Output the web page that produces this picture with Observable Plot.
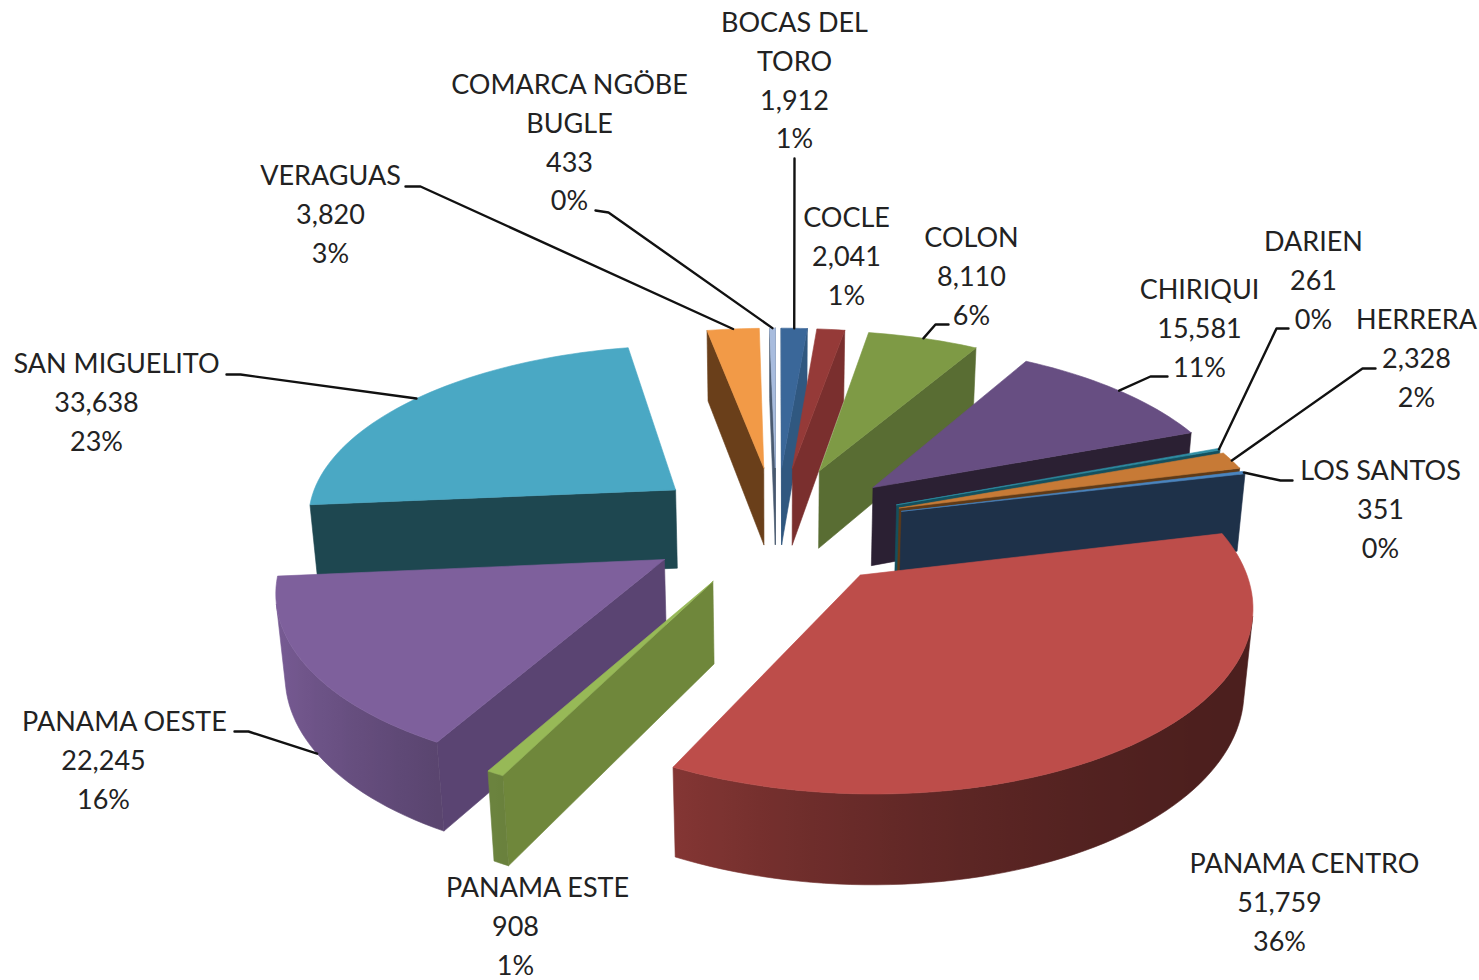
<!DOCTYPE html>
<html><head><meta charset="utf-8">
<style>html,body{margin:0;padding:0;background:#fff}svg{display:block}</style>
<script src="https://cdn.jsdelivr.net/npm/d3@7"></script>
<script src="https://cdn.jsdelivr.net/npm/@observablehq/plot@0.6"></script>
</head><body><div id="chart"></div>
<script>
// --- data ---
const names = ["BOCAS DEL\nTORO","COCLE","COLON","CHIRIQUI","DARIEN","HERRERA","LOS SANTOS","PANAMA CENTRO","PANAMA ESTE","PANAMA OESTE","SAN MIGUELITO","VERAGUAS","COMARCA NGÖBE\nBUGLE"];
const values = [1912,2041,8110,15581,261,2328,351,51759,908,22245,33638,3820,433];
// --- colours ---
const topColors  = ["#3a6799","#953a38","#7e9a45","#674e82","#2f8ea5","#c77a36","#4a85c0","#bd4d4a","#97b957","#7e609c","#4aa8c4","#f29a47","#a8bcde"];
const wallColors = ["#305880","#7a2f2e","#596d33","#2b2033","#14505e","#5e3a18","#1e3149","#8a3634","#6f873b","#5a4472","#1e4750","#6a3f1a","#4a5a70"];
// --- label layout ---
const labelNameX  = [794,846,971,1199,1313,1416,1380,1304,537,124,116,330,569];
const labelValueX = [794,846,971,1199,1313,1416,1380,1279,515,103,96,330,569];
const labelTopY   = [23,218,238,290,242,320,471,864,888,722,364,176,85];
const lineStep = 38.7;
const leaderStart = [[794,158],null,[948,324],[1167,376],[1288,328],[1375,368],[1292,480],null,null,[234,731],[226,374],[405,186],[595,210]];
const leaderElbow = [null,null,[935,324],[1150,376],[1276,328],[1362,368],[1280,480],null,null,[248,731],[240,374],[420,186],[608,212]];
const leaderOnWallFoot = [9];
// --- view ---
const cx=776, cy=525, R=372, D=6.4, tilt=27.8*Math.PI/180, H=0.247, explode=0.35;
const project=(X,Y,Z)=>{
  const v=Y*Math.cos(tilt)-Z*Math.sin(tilt), w=Y*Math.sin(tilt)+Z*Math.cos(tilt), s=D/(D+v);
  return [cx+R*X*s, cy-R*w*s];
};
const total=d3.sum(values);
let cum=0;
const slices=values.map((v,i)=>{const a0=cum/total*2*Math.PI;cum+=v;const a1=cum/total*2*Math.PI;
  const m=(a0+a1)/2;return {i,a0,a1,m,ox:explode*Math.sin(m),oy:explode*Math.cos(m)};});
const pt=(s,r,a,z)=>project(s.ox+r*Math.sin(a),s.oy+r*Math.cos(a),z);
const polys=[];let pid=0;
const area=p=>{let t=0;p.forEach((q,k)=>{const n=p[(k+1)%p.length];t+=q[0]*n[1]-n[0]*q[1]});return t;};
const add=(p,color,cull=true)=>{ if(cull&&area(p)>=0) return; const id=pid++; [...p,p[0]].forEach(q=>polys.push({id,x:q[0],y:q[1],color})); };
const dark=(c,k)=>{const o=d3.rgb(c);return d3.rgb(o.r*k,o.g*k,o.b*k).formatHex();};
const shade=(col,a)=>{const t=(Math.sin(a)+1)/2;return dark(col,0.4+0.57*(1-t)*(1-t));};
const gradients=[];
const order=[...slices].sort((a,b)=>Math.cos(b.m)-Math.cos(a.m));
for(const s of order){
  const col=topColors[s.i], wall=wallColors[s.i];
  add([pt(s,0,0,0),pt(s,1,s.a0,0),pt(s,1,s.a0,-H),pt(s,0,0,-H)],wall);
  add([pt(s,1,s.a1,0),pt(s,0,0,0),pt(s,0,0,-H),pt(s,1,s.a1,-H)],wall);
  const n=Math.max(4,Math.ceil((s.a1-s.a0)/0.03));
  const angles=d3.range(n+1).map(k=>s.a0+(s.a1-s.a0)*k/n);
  // keep the stretch of the curved wall that faces the viewer
  const seen=[];
  for(let k=0;k<n;k++){
    const q=[pt(s,1,angles[k],0),pt(s,1,angles[k+1],0),pt(s,1,angles[k+1],-H),pt(s,1,angles[k],-H)];
    if(area(q)<0) seen.push(k);
  }
  if(seen.length){
    const vis=angles.slice(seen[0],seen[seen.length-1]+2);
    const xs=vis.map(a=>pt(s,1,a,0)[0]), x0=d3.min(xs), x1=d3.max(xs), id=`wall${s.i}`;
    const stops=vis.map((a,k)=>({o:x1>x0?(xs[k]-x0)/(x1-x0):0,c:shade(col,a)})).sort((p,q)=>p.o-q.o);
    gradients.push({id,x0,x1,stops});
    add([...vis.map(a=>pt(s,1,a,0)),...[...vis].reverse().map(a=>pt(s,1,a,-H))],`url(#${id})`,false);
  }
  add([pt(s,0,0,0),...angles.map(a=>pt(s,1,a,0))],col,false);
}
const defsMark=()=>{
  const defs=d3.create("svg:defs");
  gradients.forEach(g=>{
    const lg=defs.append("linearGradient").attr("id",g.id).attr("gradientUnits","userSpaceOnUse")
      .attr("x1",g.x0).attr("x2",g.x1).attr("y1",0).attr("y2",0);
    g.stops.forEach(st=>lg.append("stop").attr("offset",st.o).attr("stop-color",st.c));
  });
  return defs.node();
};
// labels
const rows=[];
names.forEach((nm,i)=>{
  const parts=nm.split("\n");let y=labelTopY[i];
  parts.forEach(t=>{rows.push({t,x:labelNameX[i],y});y+=lineStep;});
  rows.push({t:d3.format(",")(values[i]),x:labelValueX[i],y});y+=lineStep;
  rows.push({t:Math.round(values[i]/total*100)+"%",x:labelValueX[i],y});
});
const leaders=[];
leaderStart.forEach((st,i)=>{ if(!st) return;
  const end=pt(slices[i],1,slices[i].m,leaderOnWallFoot.includes(i)?-H:0);
  [st,leaderElbow[i],end].filter(Boolean).forEach(q=>leaders.push({i,x:q[0],y:q[1]}));
});
const chart=Plot.plot({
  width:1479,height:980,margin:0,
  x:{domain:[0,1479],range:[0,1479],axis:null},
  y:{domain:[0,980],range:[0,980],axis:null},
  color:{type:"identity"},
  style:{background:"#fff"},
  marks:[
    defsMark,
    Plot.line(polys,{x:"x",y:"y",z:"id",fill:"color",stroke:"color",strokeWidth:0.6}),
    Plot.line(leaders,{x:"x",y:"y",z:"i",stroke:"#111",strokeWidth:2.4}),
    Plot.text(rows,{x:"x",y:"y",text:"t",fontSize:27,fontFamily:"Lato",fill:"#222",textAnchor:"middle"})
  ]
});
document.getElementById("chart").append(chart);
</script></body></html>
